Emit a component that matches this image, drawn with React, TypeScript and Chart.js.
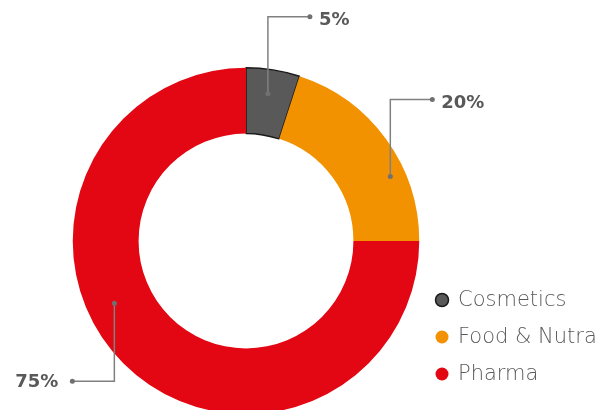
import React, { useEffect, useRef } from "react";
import { Chart, registerables } from "chart.js";

Chart.register(...registerables);

const categories = ["Cosmetics", "Food & Nutra", "Pharma"];
const shares = [5, 20, 75];
const valueLabels = ["5%", "20%", "75%"];
const sliceColors = ["#595959", "#F39200", "#E30613"];

// leader-line anchor placement within each slice (fraction of angle / ring width)
const anchorAngleFrac = [0.47, 0.665, 0.573];
const anchorRadiusFrac = [0.63, 0.77, 0.58];
const leaderUp = [true, true, false];
const leaderRight = [true, true, false];

const labelPlugin = {
  id: "leaderLabels",
  afterDraw(chart: any) {
    const ctx = chart.ctx;
    const meta = chart.getDatasetMeta(0);
    ctx.save();
    meta.data.forEach((arc: any, i: number) => {
      const p = arc.getProps(["x", "y", "startAngle", "endAngle", "innerRadius", "outerRadius"], true);
      const a = p.startAngle + anchorAngleFrac[i] * (p.endAngle - p.startAngle);
      const r = p.innerRadius + anchorRadiusFrac[i] * (p.outerRadius - p.innerRadius);
      const x0 = p.x + Math.cos(a) * r;
      const y0 = p.y + Math.sin(a) * r;
      const y1 = y0 + (leaderUp[i] ? -77 : 78);
      const x1 = x0 + (leaderRight[i] ? 42 : -42);
      ctx.strokeStyle = "#808080";
      ctx.lineWidth = 1.5;
      ctx.beginPath();
      ctx.moveTo(x0, y0);
      ctx.lineTo(x0, y1);
      ctx.lineTo(x1, y1);
      ctx.stroke();
      ctx.fillStyle = "#707070";
      ctx.beginPath();
      ctx.arc(x0, y0, 2.5, 0, Math.PI * 2);
      ctx.fill();
      ctx.beginPath();
      ctx.arc(x1, y1, 2.5, 0, Math.PI * 2);
      ctx.fill();
      ctx.fillStyle = "#595959";
      ctx.font = "bold 18px 'DejaVu Sans', sans-serif";
      ctx.textBaseline = "middle";
      if (leaderRight[i]) {
        ctx.textAlign = "left";
        ctx.fillText(valueLabels[i], x1 + 9, y1 + (leaderUp[i] ? 4 : 1));
      } else {
        ctx.textAlign = "right";
        ctx.fillText(valueLabels[i], x1 - 14, y1 + 1);
      }
    });

    // legend
    const lx = 442;
    const ly = [300, 337, 374];
    categories.forEach((c, i) => {
      ctx.beginPath();
      ctx.arc(lx, ly[i], 6.5, 0, Math.PI * 2);
      ctx.fillStyle = sliceColors[i];
      ctx.fill();
      if (i === 0) {
        ctx.strokeStyle = "#1a1a1a";
        ctx.lineWidth = 1.5;
        ctx.stroke();
      }
      ctx.fillStyle = "#5a5a5a";
      ctx.font = "200 21px 'DejaVu Sans', sans-serif";
      ctx.textAlign = "left";
      ctx.textBaseline = "middle";
      ctx.fillText(c, lx + 16, ly[i] + 1);
    });
    ctx.restore();
  },
};

export default function App() {
  const ref = useRef<HTMLCanvasElement | null>(null);
  useEffect(() => {
    document.body.style.margin = "0";
    const chart = new Chart(ref.current as HTMLCanvasElement, {
      type: "doughnut",
      data: {
        labels: categories,
        datasets: [
          {
            data: shares,
            backgroundColor: sliceColors,
            borderColor: ["#1a1a1a", "#ffffff", "#ffffff"],
            borderWidth: [1.5, 0, 0],
          },
        ],
      },
      options: {
        responsive: false,
        animation: false,
        devicePixelRatio: 1,
        cutout: "62%",
        layout: { padding: { top: 67, bottom: 15, left: 72, right: 188 } },
        plugins: { legend: { display: false }, tooltip: { enabled: false } },
      },
      plugins: [labelPlugin],
    });
    return () => chart.destroy();
  }, []);
  return (
    <div style={{ width: 608, height: 410, overflow: "hidden", position: "relative", background: "#fff" }}>
      <canvas ref={ref} width={608} height={430} style={{ display: "block" }} />
    </div>
  );
}
